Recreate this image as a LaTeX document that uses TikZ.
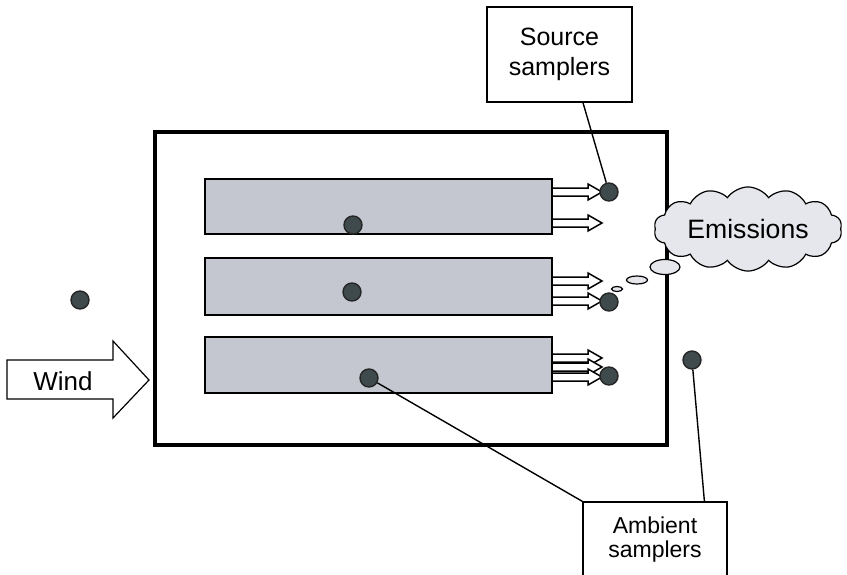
\documentclass[tikz,border=0pt]{standalone}
\usepackage{fontspec}
\setmainfont{Liberation Sans}
\usepackage{tikz}
\usetikzlibrary{calc,shapes.symbols}
\definecolor{barfill}{HTML}{C4C7CF}
\definecolor{dotfill}{HTML}{3F4A4C}
\definecolor{cloudfill}{HTML}{E6E7EC}
\tikzset{
  dot/.style={circle, draw=black!85, line width=0.7pt, fill=dotfill, minimum size=9pt, inner sep=0pt},
  labelbox/.style={draw, line width=0.6pt, fill=white, align=center, inner sep=0pt},
  hollow/.style={draw, line width=0.75pt, fill=white, line join=miter},
  leader/.style={line width=0.7pt}
}
\def\outarrow(#1){\draw[hollow] (552,#1) ++(0,-4) -- ++(36,0) -- ++(0,-4) -- ++(14,8) -- ++(-14,8) -- ++(0,-4) -- ++(-36,0) -- cycle;}

\begin{document}
\begin{tikzpicture}[x=0.5pt, y=-0.5pt]
			%%%%% START %%%%%
			\useasboundingbox (0,0) rectangle (847,574);
			
			\draw[line width=2pt] (155,132) rectangle (667,445);
			
			\draw[line width=1.1pt, fill=barfill] (205,179) rectangle (552,234);
			\draw[line width=1.1pt, fill=barfill] (205,258) rectangle (552,315);
			\draw[line width=1.1pt, fill=barfill] (205,337) rectangle (552,393);
			
			\outarrow(192)
			\outarrow(223)
			\outarrow(281)
			\outarrow(301)
			\outarrow(358)
			\outarrow(367)
			\outarrow(377)
			
			\draw[hollow, line width=0.6pt] (7,360) -- (113,360) -- (113,341) -- (149,380) -- (113,418) -- (113,399) -- (7,399) -- cycle;
			\node[font=\fontsize{13}{15}\selectfont] (wind) at (63,381) {Wind};
			
			\node[dot] (b1) at (353,225) {};
			\node[dot] (b2) at (352,292) {};
			\node[dot] (b3) at (369,378) {};
			\node[dot] (s1) at (609,192) {};
			\node[dot] (s2) at (609,302) {};
			\node[dot] (s3) at (609,376) {};
			\node[dot] (a1) at (80,300) {};
			\node[dot] (a2) at (692,360) {};
			
			\node[cloud, cloud puffs=14, cloud puff arc=110, aspect=2.6, draw, line width=0.6pt, fill=cloudfill,
			      minimum width=94pt, minimum height=38pt, inner sep=0pt, font=\fontsize{13.3}{15}\selectfont] (emis) at (748,229) {Emissions};
			\draw[line width=0.6pt, fill=cloudfill] (665,267) ellipse (15 and 7.5);
			\draw[line width=0.6pt, fill=cloudfill] (637,280) ellipse (10.5 and 4);
			\draw[line width=0.6pt, fill=cloudfill] (617,289) ellipse (5.5 and 2.5);
			
			\node[labelbox, minimum width=72.5pt, minimum height=47.5pt, font=\fontsize{12.5}{15}\selectfont] (src) at (559.5,54.5) {Source\\samplers};
			\node[labelbox, minimum width=72pt, minimum height=38pt, font=\fontsize{11.5}{12}\selectfont] (amb) at (655,540) {Ambient\\samplers};
			
			\draw[leader] (src.-64) -- (s1);
			\draw[leader] (b3) -- (amb.north west);
			\draw[leader] (a2) -- (amb.38);
			%%%%% END %%%%%
\end{tikzpicture}
\end{document}
